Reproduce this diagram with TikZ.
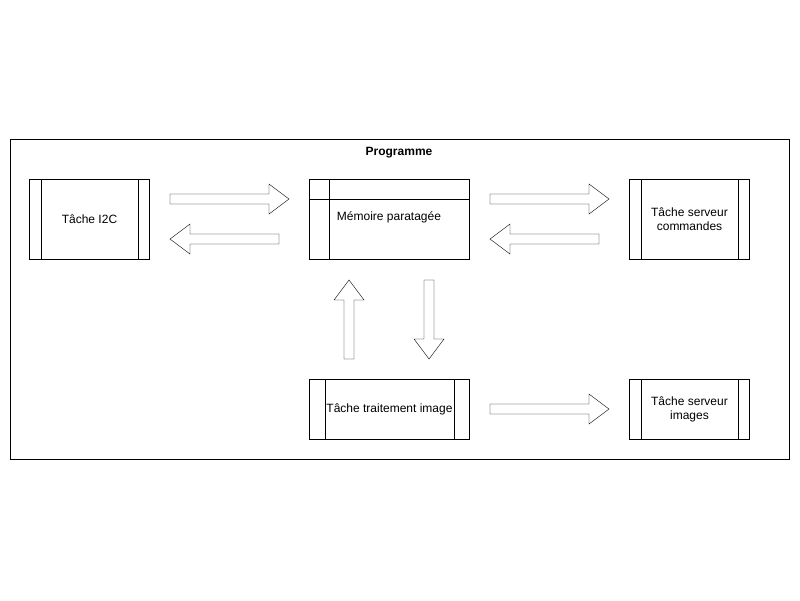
\documentclass[tikz,border=0pt]{standalone}
\usepackage{fontspec}
\setmainfont{Liberation Sans}
\usetikzlibrary{positioning}

\tikzset{
  process/.style={draw, minimum width=120pt, minimum height=80pt, font=\fontsize{12}{14}\selectfont, align=center},
  blockarrow/.style={draw, fill=white}
}
% block arrow: start point, angle, length
\newcommand{\bigarrow}[3]{%
  \begin{scope}[shift={(#1)}, rotate=#2]
    \draw[blockarrow] (0,-5) -- (#3-20,-5) -- (#3-20,-15) -- (#3,0)
      -- (#3-20,15) -- (#3-20,5) -- (0,5) -- cycle;
  \end{scope}}

\begin{document}
\begin{tikzpicture}[x=1pt, y=-1pt]
   \useasboundingbox (0,0) rectangle (800,600);
   % frame
   \draw (10,139) rectangle (789,459);
   \node[font=\fontsize{12}{14}\selectfont\bfseries] (titre) at (399,152.5) {Programme};

   % tasks
   \node[process] (i2c) at (89.5,219) {Tâche I2C};
   \draw ([xshift=12pt]i2c.north west) -- ([xshift=12pt]i2c.south west);
   \draw ([xshift=-12pt]i2c.north east) -- ([xshift=-12pt]i2c.south east);

   \node[process, minimum width=160pt] (mem) at (389.5,219) {};
   \node[font=\fontsize{12}{14}\selectfont] (memtxt) at (389,217) {Mémoire paratagée};
   \draw ([xshift=20pt]mem.north west) -- ([xshift=20pt]mem.south west);
   \draw ([yshift=-20pt]mem.north west) -- ([yshift=-20pt]mem.north east);

   \node[process] (cmd) at (689.5,219) {Tâche serveur\\commandes};
   \draw ([xshift=12pt]cmd.north west) -- ([xshift=12pt]cmd.south west);
   \draw ([xshift=-12pt]cmd.north east) -- ([xshift=-12pt]cmd.south east);

   \node[process, minimum width=160pt, minimum height=60pt] (trait) at (389.5,409) {Tâche traitement image};
   \draw ([xshift=16pt]trait.north west) -- ([xshift=16pt]trait.south west);
   \draw ([xshift=-16pt]trait.north east) -- ([xshift=-16pt]trait.south east);

   \node[process, minimum height=60pt] (img) at (689.5,409) {Tâche serveur\\images};
   \draw ([xshift=12pt]img.north west) -- ([xshift=12pt]img.south west);
   \draw ([xshift=-12pt]img.north east) -- ([xshift=-12pt]img.south east);

   % arrows
   \bigarrow{170,199}{0}{119}
   \bigarrow{279,239}{180}{109}
   \bigarrow{490,199}{0}{119}
   \bigarrow{599,239}{180}{109}
   \bigarrow{349,359}{90}{79}
   \bigarrow{429,280}{270}{79}
   \bigarrow{490,409}{0}{119}
\end{tikzpicture}
\end{document}
